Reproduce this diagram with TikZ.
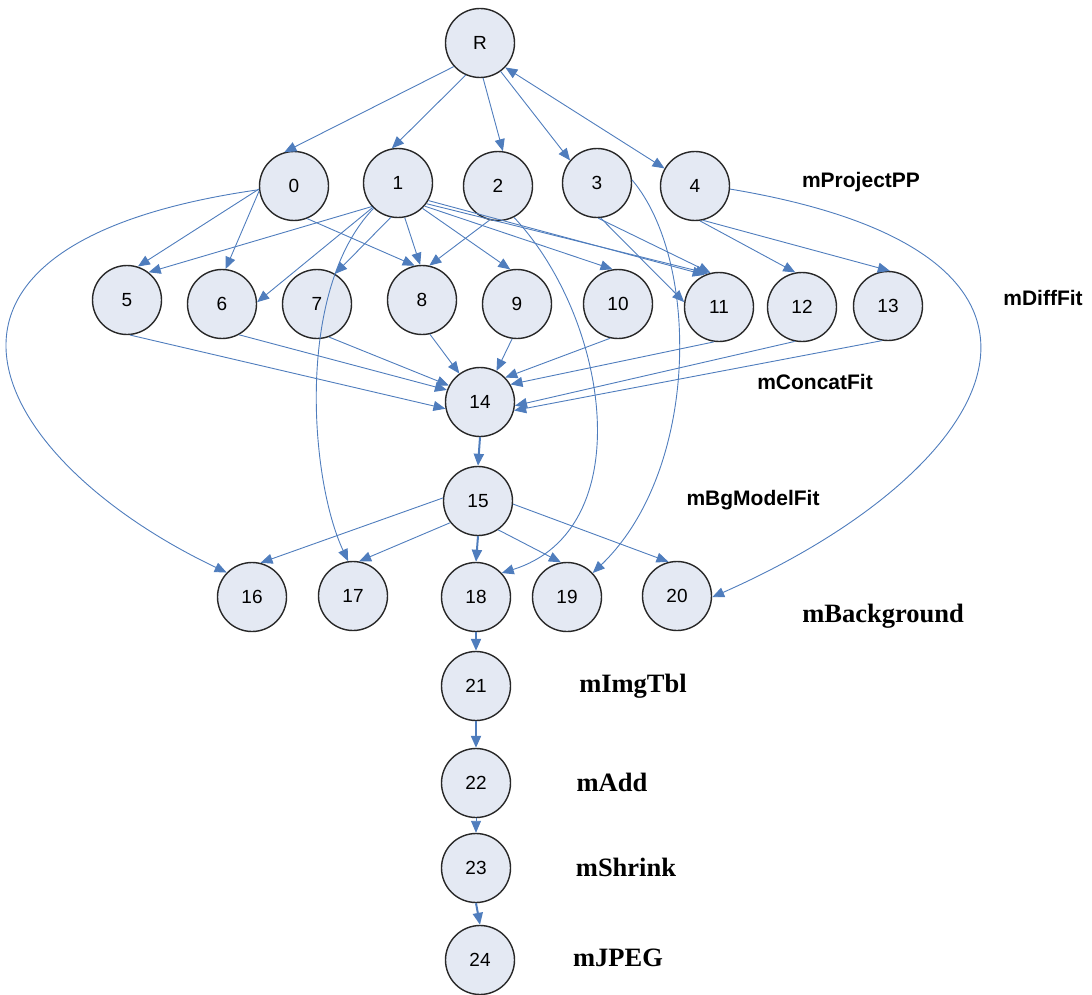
\documentclass[tikz,border=0pt]{standalone}
\usepackage{fontspec}
\setmainfont{Liberation Sans}
\newfontfamily\stageserif{Liberation Serif}
\usetikzlibrary{arrows.meta}
\definecolor{edgeblue}{RGB}{79,125,189}
\definecolor{jobfill}{RGB}{228,233,243}
\definecolor{jobline}{RGB}{40,40,40}
\begin{document}
\begin{tikzpicture}[x=1pt,y=-1pt,
  job/.style={circle, draw=jobline, line width=1.4pt, fill=jobfill,
    minimum size=69pt, inner sep=0pt, font=\fontsize{19}{20}\selectfont},
  dep/.style={draw=edgeblue, line width=0.9pt, -{Triangle[length=12pt,width=10pt]}},
  depboth/.style={dep, {Triangle[length=12pt,width=10pt]}-{Triangle[length=12pt,width=10pt]}},
  depthick/.style={dep, line width=2pt},
  stagesans/.style={font=\bfseries\fontsize{21}{22}\selectfont},
  stageroman/.style={font=\stageserif\bfseries\fontsize{26.5}{28}\selectfont}]
\useasboundingbox (0,0) rectangle (1092,995);

% root
\node[job] (R) at (480,43) {R};
% mProjectPP
\node[job] (n0) at (294,186) {0};
\node[job] (n1) at (398,183) {1};
\node[job] (n2) at (498,186) {2};
\node[job] (n3) at (597,183) {3};
\node[job] (n4) at (695,186) {4};
% mDiffFit
\node[job] (n5) at (127,300) {5};
\node[job] (n6) at (222,304) {6};
\node[job] (n7) at (317,304) {7};
\node[job] (n8) at (422,300) {8};
\node[job] (n9) at (517,304) {9};
\node[job] (n10) at (618,304) {10};
\node[job] (n11) at (719,307) {11};
\node[job] (n12) at (802,307) {12};
\node[job] (n13) at (888,306) {13};
% mConcatFit, mBgModelFit
\node[job] (n14) at (480,402) {14};
\node[job] (n15) at (478,501) {15};
% mBackground
\node[job] (n16) at (252,597) {16};
\node[job] (n17) at (353,596) {17};
\node[job] (n18) at (476,597) {18};
\node[job] (n19) at (567,597) {19};
\node[job] (n20) at (677,596) {20};
% final chain
\node[job] (n21) at (476,686) {21};
\node[job] (n22) at (476,783) {22};
\node[job] (n23) at (476,868) {23};
\node[job] (n24) at (480,960) {24};

% stage names
\node[stagesans] (lproj) at (861,182) {mProjectPP};
\node[stagesans] (ldiff) at (1043,298) {mDiffFit};
\node[stagesans] (lconcat) at (815,382) {mConcatFit};
\node[stagesans] (lbg) at (753,500) {mBgModelFit};
\node[stageroman] (lback) at (883,616) {mBackground};
\node[stageroman] (limg) at (633,686) {mImgTbl};
\node[stageroman] (ladd) at (612,782) {mAdd};
\node[stageroman] (lshr) at (626,867) {mShrink};
\node[stageroman] (ljpg) at (618,958) {mJPEG};

% root to projections
\draw[dep] (R.222) -- (n0.106);
\draw[dep] (R.246) -- (n1.100);
\draw[dep] (R.275) -- (n2.82);
\draw[dep] (R.306) -- (n3.140);
\draw[depboth] (R.316) -- (n4.150);

% projections to differences
\draw[dep] (n0.185) -- (n5.72);
\draw[dep] (n1.222) -- (n5.52);
\draw[dep] (n0.188) -- (n6.84);
\draw[dep] (n1.224) -- (n6.3);
\draw[dep] (n1.258) -- (n7.59);
\draw[dep] (n0.292) -- (n8.102);
\draw[dep] (n1.281) -- (n8.93);
\draw[dep] (n2.256) -- (n8.78);
\draw[dep] (n1.314) -- (n9.101);
\draw[dep] (n1.319) -- (n10.99);
\draw[dep] (n1.324) -- (n11.108);
\draw[dep] (n1.330) -- (n11.114);
\draw[dep] (n3.272) -- (n11.104);
\draw[dep] (n3.276) -- (n11.172);
\draw[dep] (n4.278) -- (n12.101);
\draw[dep] (n4.283) -- (n13.87);

% differences to concatenation
\draw[dep] (n5.275) -- (n14.191);
\draw[dep] (n6.299) -- (n14.160);
\draw[dep] (n7.290) -- (n14.152);
\draw[dep] (n8.283) -- (n14.126);
\draw[dep] (n9.262) -- (n14.62);
\draw[dep] (n10.257) -- (n14.44);
\draw[dep] (n11.262) -- (n14.30);
\draw[dep] (n12.258) -- (n14.354);
\draw[dep] (n13.260) -- (n14.346);

% background model and corrections
\draw[depthick] (n14.270) -- (n15.90);
\draw[dep] (n15.175) -- (n16.76);
\draw[dep] (n15.218) -- (n17.80);
\draw[depthick] (n15.270) -- (n18.90);
\draw[dep] (n15.305) -- (n19.100);
\draw[dep] (n15.355) -- (n20.104);

% long-range dependencies
\draw[dep] (n0.186) .. controls (-130,245) and (-10,460) .. (n16.136);
\draw[dep] (n4.355) .. controls (1125,255) and (1000,470) .. (n20.358);
\draw[dep] (n1.226) .. controls (295,290) and (310,480) .. (n17.98);
\draw[dep] (n2.297) .. controls (610,320) and (640,530) .. (n18.43);
\draw[dep] (n3.5) .. controls (700,260) and (700,470) .. (n19.43);

% final chain
\draw[depthick] (n18.270) -- (n21.90);
\draw[depthick] (n21.270) -- (n22.90);
\draw[dep] (n22.270) -- (n23.90);
\draw[depthick] (n23.270) -- (n24.90);
\end{tikzpicture}
\end{document}
